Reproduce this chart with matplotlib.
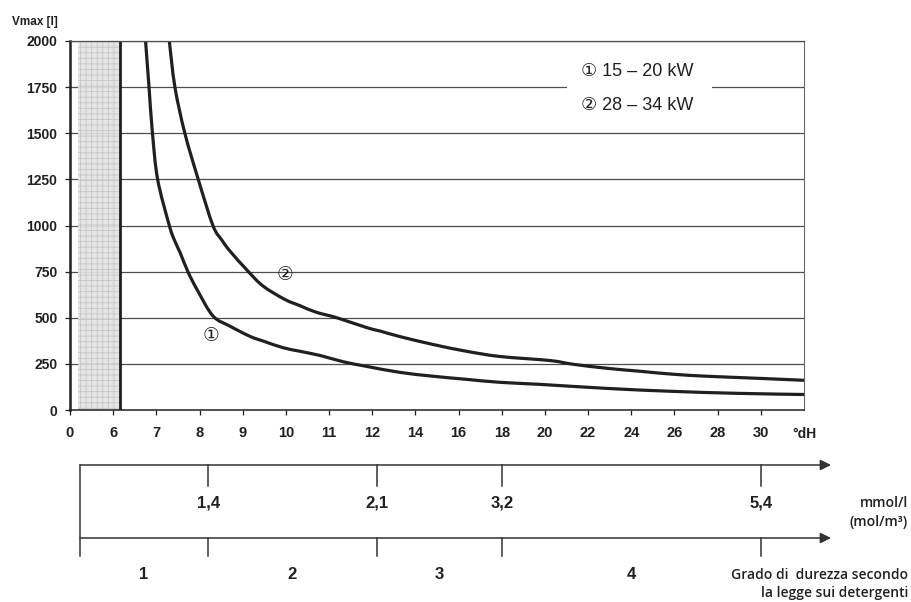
import numpy as np
import matplotlib
matplotlib.use("Agg")
import matplotlib.pyplot as plt
from matplotlib.transforms import blended_transform_factory
from matplotlib.patches import Rectangle, PathPatch
from matplotlib.path import Path

plt.rcParams["hatch.linewidth"] = 0.6

# ---- data ---------------------------------------------------------------
# °dH ticks are placed at equal spacing (uneven hardness steps)
x_ticks = [0, 6, 7, 8, 9, 10, 11, 12, 14, 16, 18, 20, 22, 24, 26, 28, 30]
x_end = 32
y_ticks = [0, 250, 500, 750, 1000, 1250, 1500, 1750, 2000]

# curve 1: 15 - 20 kW
curve1_dh = [6.75, 6.83, 6.91, 7.03, 7.30, 7.42, 7.55, 7.73, 7.94, 8.31, 8.70,
             9.17, 9.47, 9.93, 10.33, 10.80, 11.32, 11.88, 13.28, 14.82, 16.38,
             17.92, 19.76, 22.88, 25.92, 29.04, 32.0]
curve1_v = [2000, 1750, 1500, 1250, 1000, 920, 853, 750, 654, 510, 455,
            399, 374, 338, 318, 295, 262, 236, 204, 183, 166,
            150, 139, 117, 101, 90, 84]

# curve 2: 28 - 34 kW
curve2_dh = [7.30, 7.43, 7.66, 7.97, 8.31, 8.52, 8.71, 9.12, 9.47, 9.97,
             10.33, 10.70, 11.18, 11.88, 12.36, 13.28, 14.82, 16.38,
             17.92, 20.24, 21.30, 22.88, 24.40, 25.92, 27.50, 29.82, 32.0]
curve2_v = [2000, 1750, 1500, 1250, 1000, 920, 860, 753, 672, 600,
            565, 530, 500, 446, 428, 398, 355, 318,
            290, 268, 248, 226, 210, 194, 183, 172, 161]

legend_labels = ["\u2460 15 \u2013 20 kW", "\u2461 28 \u2013 34 kW"]

# softened-water zone and minimum hardness line
soft_zone = (1.1, 6.15)
min_hardness = 6.15

# secondary scales
mmol_dh = [8.2, 12.2, 18.0, 30.0]
mmol_labels = ["1,4", "2,1", "3,2", "5,4"]
range_labels = ["1", "2", "3", "4"]

# ---- scale ----------------------------------------------------------------
knots_dh = np.array([-60.0] + x_ticks + [x_end, 100.0])
knots_pos = np.array([-10.0] + list(range(len(x_ticks))) + [len(x_ticks), len(x_ticks) + 34.0])


def forward(x):
    return np.interp(x, knots_dh, knots_pos)


def inverse(p):
    return np.interp(p, knots_pos, knots_dh)


INK = "#231f20"
BOLD = dict(family=["Liberation Sans", "DejaVu Sans"], weight="bold", color=INK)
REG = dict(family=["Liberation Sans", "DejaVu Sans", "Noto Sans CJK JP"], color=INK)
SEMI = dict(family=["Open Sans", "DejaVu Sans"], weight="semibold", color=INK)

W, H = 912, 602
fig = plt.figure(figsize=(W / 100, H / 100), dpi=100)

L, R, T, B = 70, 804, 41, 410
ax = fig.add_axes([L / W, 1 - B / H, (R - L) / W, (B - T) / H])
ax.set_xscale("function", functions=(forward, inverse))
ax.set_xlim(0, x_end)
ax.set_ylim(0, 2000)

# pixel size of one scale unit, used to shape the smooth curves
sx = (R - L) / (forward(x_end) - forward(0))
sy = (B - T) / 2000.0


def smooth_path(xs, ys):
    """Bezier path through the points (Catmull-Rom tangents in screen proportions)."""
    X = forward(np.asarray(xs, float)) * sx
    Y = np.asarray(ys, float) * sy
    P = np.column_stack([X, Y])
    n = len(P)
    verts = [P[0]]
    codes = [Path.MOVETO]
    for i in range(n - 1):
        p0 = P[i - 1] if i > 0 else P[i]
        p1, p2 = P[i], P[i + 1]
        p3 = P[i + 2] if i + 2 < n else P[i + 1]
        c1 = p1 + (p2 - p0) / 6.0
        c2 = p2 - (p3 - p1) / 6.0
        verts += [c1, c2, p2]
        codes += [Path.CURVE4] * 3
    V = np.array(verts)
    V[:, 0] = inverse(V[:, 0] / sx)
    V[:, 1] = V[:, 1] / sy
    return Path(V, codes)


# grid
for v in y_ticks[1:]:
    ax.axhline(v, color="#4d4d4d", lw=0.9, zorder=1)

# soft zone
ax.axvspan(*soft_zone, facecolor="#e3e3e3", edgecolor="#c4c4c4", hatch="+++",
           lw=0, zorder=2, alpha=0.92)
ax.axvline(min_hardness, color=INK, lw=2.0, zorder=3)

# curves
for xs, ys in ((curve1_dh, curve1_v), (curve2_dh, curve2_v)):
    ax.add_patch(PathPatch(smooth_path(xs, ys), facecolor="none", edgecolor=INK,
                           lw=2.3, capstyle="butt", joinstyle="round", zorder=4))
ax.text(8.27, 399, "\u2460", ha="center", va="center", fontsize=13.5, zorder=5, **REG)
ax.text(9.97, 730, "\u2461", ha="center", va="center", fontsize=13.5, zorder=5, **REG)

# legend text over a white panel
ax.add_patch(Rectangle(((567 - L) / (R - L), (B - 122) / (B - T)),
                       (712 - 567) / (R - L), (122 - 55) / (B - T),
                       transform=ax.transAxes, facecolor="white", edgecolor="none",
                       zorder=3))
ax.text((581 - L) / (R - L), (B - 71) / (B - T), legend_labels[0], transform=ax.transAxes,
        ha="left", va="center", fontsize=13, zorder=5, **REG)
ax.text((581 - L) / (R - L), (B - 106) / (B - T), legend_labels[1], transform=ax.transAxes,
        ha="left", va="center", fontsize=13, zorder=5, **REG)

# spines / ticks
for s in ax.spines.values():
    s.set_color(INK)
ax.spines["left"].set_linewidth(1.8)
ax.spines["bottom"].set_linewidth(1.1)
ax.spines["top"].set_linewidth(0.9)
ax.spines["top"].set_color("#4d4d4d")
ax.spines["right"].set_linewidth(0.8)
ax.spines["right"].set_color("#666666")
for s in ax.spines.values():
    s.set_zorder(6)

ax.set_xticks(x_ticks)
ax.set_xticklabels([str(t) for t in x_ticks])
ax.set_yticks(y_ticks)
ax.set_yticklabels([str(t) for t in y_ticks])
ax.tick_params(axis="both", direction="out", length=3.6, width=0.9, color=INK)
ax.tick_params(axis="y", pad=5.5)
ax.tick_params(axis="x", pad=8)
for lab in ax.get_xticklabels():
    lab.set(fontsize=10.5, **BOLD)
for lab in ax.get_yticklabels():
    lab.set(fontsize=10, **BOLD)

ax.text(1.0, -0.066, "\u00b0dH", transform=ax.transAxes, ha="center", va="center",
        fontsize=10, **BOLD)
fig.text(12 / W, 1 - 22 / H, "Vmax [l]", ha="left", va="center", fontsize=8.5, **BOLD)

# ---- secondary scales -----------------------------------------------------
top2, bot2 = 440, 602
ax2 = fig.add_axes([L / W, 1 - bot2 / H, (R - L) / W, (bot2 - top2) / H], sharex=ax)
ax2.set_ylim(bot2, top2)
ax2.axis("off")
ax2.patch.set_visible(False)
bt = blended_transform_factory(ax2.transAxes, ax2.transData)

x0 = (80 - L) / (R - L)
x1 = (831 - L) / (R - L)
y_mmol, y_range = 465, 538
arrow_kw = dict(arrowstyle="-|>", lw=1.1, color="#333333", mutation_scale=16,
                shrinkA=0, shrinkB=0)
for yl in (y_mmol, y_range):
    ax2.annotate("", xy=(x1, yl), xytext=(x0, yl), xycoords=bt, textcoords=bt,
                 arrowprops=arrow_kw, annotation_clip=False)
ax2.plot([x0, x0], [y_mmol, 556], transform=bt, color="#333333", lw=1.1, clip_on=False)

for d, lab in zip(mmol_dh, mmol_labels):
    ax2.plot([d, d], [y_mmol, 486], color="#333333", lw=1.1, clip_on=False)
    ax2.plot([d, d], [y_range, 556], color="#333333", lw=1.1, clip_on=False)
    ax2.text(d, 503, lab, ha="center", va="center", fontsize=12, **BOLD)

# hardness ranges centred between boundaries
left_edge = float(inverse(x0 * (forward(x_end) - forward(0)) + forward(0)))
bounds = [left_edge] + mmol_dh
for i, lab in enumerate(range_labels):
    mid = inverse((forward(bounds[i]) + forward(bounds[i + 1])) / 2)
    ax2.text(float(mid), 574, lab, ha="center", va="center", fontsize=12, **BOLD)

fig.text(908 / W, 1 - 503 / H, "mmol/l", ha="right", va="center", fontsize=10, **SEMI)
fig.text(908 / W, 1 - 522 / H, "(mol/m\u00b3)", ha="right", va="center", fontsize=10, **SEMI)
fig.text(908 / W, 1 - 575 / H, "Grado di  durezza secondo", ha="right", va="center",
         fontsize=10, **SEMI)
fig.text(908 / W, 1 - 593 / H, "la legge sui detergenti", ha="right", va="center",
         fontsize=10, **SEMI)

fig.savefig("out.png", dpi=100, facecolor="white")
